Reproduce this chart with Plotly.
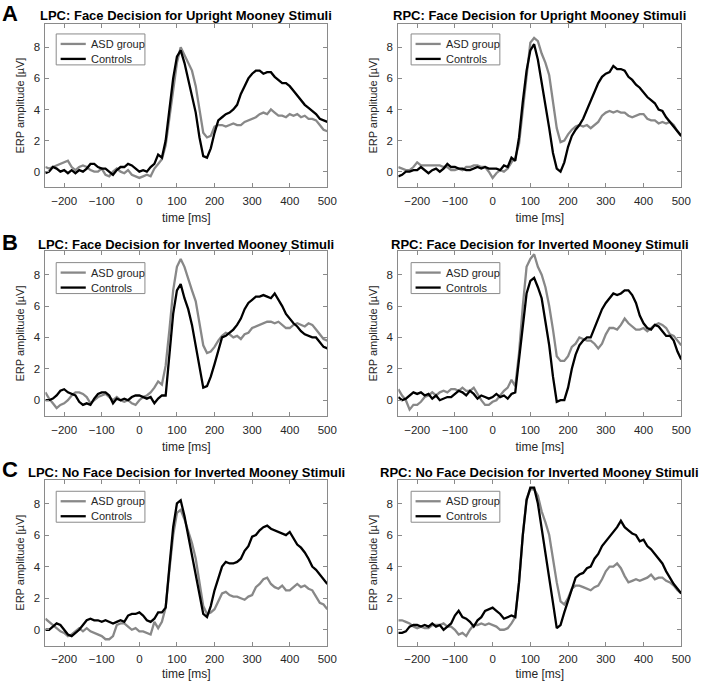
import plotly.graph_objects as go

time_ms = list(range(-250, 501, 10))

lpc_up_asd = [0.3,0.2,0.3,0.4,0.5,0.6,0.7,0.3,0.1,0.3,0.4,0.3,0.1,0.0,0.0,0.2,-0.2,-0.3,0.0,0.2,0.0,-0.1,0.1,-0.2,-0.3,
              -0.4,-0.3,-0.2,-0.3,0.2,0.5,0.8,1.7,3.5,5.5,7.0,8.0,7.5,7.0,6.5,5.5,4.0,2.5,2.2,2.3,2.9,3.0,3.0,2.9,3.0,
              3.1,3.0,3.0,3.2,3.3,3.4,3.5,3.7,3.8,3.7,4.0,3.8,3.6,3.6,3.5,3.7,3.6,3.7,3.5,3.6,3.4,3.4,3.3,3.0,2.7,2.6]
lpc_up_ctl = [-0.1,0.0,0.3,0.2,0.0,0.1,-0.1,0.1,-0.1,0.1,0.0,0.2,0.5,0.5,0.3,0.2,0.2,0.0,-0.2,0.1,0.3,0.3,0.5,0.4,0.2,
              0.0,0.1,0.0,0.3,0.5,1.1,0.9,2.0,4.0,6.0,7.4,7.8,7.0,6.0,5.0,3.8,2.2,1.0,0.9,1.5,2.5,3.3,3.5,3.7,3.8,
              4.0,4.3,5.0,5.5,6.0,6.3,6.5,6.5,6.3,6.4,6.4,6.1,5.9,5.7,5.7,5.5,5.2,4.9,4.6,4.3,4.1,3.9,3.7,3.4,3.3,3.2]

rpc_up_asd = [0.3,0.2,0.1,0.1,0.3,0.6,0.4,0.4,0.4,0.4,0.4,0.4,0.3,0.3,0.1,0.1,0.2,0.1,0.3,0.3,0.4,0.4,0.3,0.3,0.0,
              -0.4,-0.1,0.1,0.0,0.2,0.6,0.9,1.8,4.0,6.5,8.3,8.6,8.4,7.6,7.0,6.2,4.5,2.8,1.9,2.0,2.4,2.7,2.9,3.0,2.9,
              3.0,2.8,3.0,3.2,3.6,3.8,3.9,3.8,3.9,3.8,3.8,3.6,3.5,3.6,3.7,3.7,3.4,3.3,3.3,3.1,3.2,3.1,3.2,3.0,2.6,2.3]
rpc_up_ctl = [-0.3,-0.2,0.0,0.0,0.1,0.1,0.3,0.1,-0.1,0.1,0.2,0.0,0.2,0.5,0.3,0.3,0.2,0.2,0.1,0.1,0.2,0.3,0.2,0.3,0.2,
              0.2,0.2,0.1,0.4,0.3,0.9,0.7,2.2,4.5,6.5,7.8,8.2,7.2,5.8,4.2,2.8,1.2,0.2,0.0,0.6,1.6,2.3,2.7,3.0,3.4,
              4.0,4.6,5.2,5.7,6.1,6.3,6.4,6.8,6.6,6.6,6.5,6.1,5.9,5.6,5.4,5.1,4.8,4.6,4.4,4.0,3.9,3.5,3.2,2.9,2.6,2.3]

lpc_inv_asd = [0.5,0.1,-0.2,-0.5,-0.3,-0.2,0.0,0.3,0.5,0.5,0.4,0.2,-0.2,0.0,0.2,0.3,0.4,0.2,0.0,0.2,0.0,-0.1,0.0,-0.2,-0.3,
               0.0,0.2,0.3,0.5,0.8,1.2,1.0,2.2,4.5,7.0,8.5,9.0,8.5,7.7,7.0,6.3,5.0,3.5,3.0,3.1,3.4,3.8,4.1,4.3,4.2,
               4.0,4.1,3.9,4.2,4.3,4.6,4.7,4.8,4.9,5.0,5.0,4.9,5.0,4.8,4.6,4.6,4.8,4.9,4.8,4.7,4.9,4.8,4.5,4.2,3.9,3.8]
lpc_inv_ctl = [0.0,0.0,0.1,0.3,0.6,0.7,0.5,0.4,0.3,-0.1,-0.3,-0.2,-0.3,0.1,0.4,0.5,0.5,0.3,-0.2,0.1,0.0,0.1,0.0,0.2,0.3,
               0.3,0.2,0.1,0.2,-0.2,0.1,0.3,0.3,3.0,5.5,7.0,7.4,6.5,5.8,4.8,3.5,2.0,0.8,0.9,1.5,2.3,3.2,4.0,4.1,4.3,
               4.5,4.8,5.2,5.8,6.2,6.4,6.6,6.6,6.7,6.6,6.5,6.8,6.4,6.0,5.5,5.2,4.9,4.7,4.4,4.2,4.1,4.0,4.0,3.7,3.4,3.3]

rpc_inv_asd = [0.7,0.3,0.0,-0.6,-0.3,-0.3,-0.1,0.2,0.3,0.5,0.3,0.5,0.6,0.5,0.7,0.7,0.6,0.8,0.6,0.6,0.8,0.4,0.0,-0.3,-0.3,
               -0.1,0.0,0.3,0.6,0.8,1.3,0.9,3.0,6.0,8.5,9.0,9.3,8.5,8.0,7.2,6.0,4.5,2.8,2.5,2.5,2.8,3.4,3.6,4.0,3.9,
               3.8,3.8,3.6,3.3,3.6,4.2,4.6,4.6,4.5,4.8,5.2,4.9,4.7,4.5,4.5,4.6,4.4,4.6,4.8,4.9,4.8,4.6,4.2,4.1,3.8,3.5]
rpc_inv_ctl = [0.2,0.0,0.1,0.3,0.5,0.4,0.5,0.3,0.4,0.1,0.3,0.0,0.1,0.2,0.2,0.4,0.6,0.5,0.3,0.6,0.4,0.1,0.3,0.2,0.1,
               0.2,0.4,0.2,0.3,0.1,0.4,0.5,2.5,4.8,6.8,7.6,7.8,7.2,6.5,5.0,3.5,1.5,-0.1,0.0,0.0,0.8,2.0,2.9,3.5,3.8,
               4.0,4.0,4.6,5.3,5.8,6.2,6.5,6.8,6.7,6.8,7.0,7.0,6.7,6.2,5.4,4.9,4.6,4.5,4.8,4.7,4.4,4.1,4.1,3.8,3.1,2.6]

lpc_noface_asd = [0.7,0.5,0.3,0.1,-0.1,-0.2,-0.4,-0.3,-0.1,0.1,-0.1,0.1,-0.1,-0.2,-0.3,-0.4,-0.6,-0.6,-0.4,0.3,0.4,0.4,0.2,0.0,0.1,
                  -0.1,-0.1,-0.2,-0.3,0.5,0.1,0.5,1.4,3.8,6.0,7.4,7.6,7.0,6.2,5.5,4.5,3.0,1.5,1.0,1.1,1.3,1.8,2.3,2.4,2.2,
                  2.1,2.1,2.0,1.9,2.1,2.2,2.7,2.9,3.2,3.3,2.9,2.7,2.6,2.8,2.5,2.5,2.7,2.9,2.7,2.8,2.6,2.5,2.1,1.7,1.6,1.3]
lpc_noface_ctl = [0.0,0.0,0.2,0.4,0.3,0.0,-0.3,-0.4,-0.2,0.0,0.3,0.6,0.7,0.6,0.6,0.5,0.6,0.5,0.4,0.5,0.6,0.5,0.9,1.0,1.0,
                  1.1,0.9,0.6,0.5,0.7,1.1,1.1,1.4,4.0,6.5,8.0,8.2,7.2,6.0,4.8,3.5,2.2,1.0,0.8,1.5,2.5,3.2,4.0,4.3,4.2,
                  4.2,4.3,4.5,5.0,5.3,5.9,6.0,6.3,6.5,6.6,6.4,6.3,6.2,6.1,6.0,6.2,5.8,5.4,5.2,4.9,4.5,4.0,3.8,3.5,3.2,2.9]

rpc_noface_asd = [0.6,0.6,0.5,0.4,0.2,0.1,0.2,0.1,0.1,0.3,0.3,0.3,0.4,0.2,0.2,0.0,-0.3,-0.2,-0.4,0.0,0.3,0.3,0.4,0.3,0.4,
                  0.3,0.2,0.0,0.0,0.1,0.4,0.8,3.0,6.0,8.3,8.9,8.9,8.5,7.5,6.8,6.0,4.5,3.0,1.8,1.6,2.0,2.6,2.8,2.8,2.7,
                  2.6,2.5,2.7,2.8,3.2,3.7,4.0,4.0,4.2,3.9,3.4,3.0,3.1,3.2,3.1,3.2,3.3,3.5,3.2,3.3,3.3,3.1,3.0,2.8,2.5,2.3]
rpc_noface_ctl = [-0.2,-0.2,-0.1,0.2,0.3,0.3,0.2,0.3,0.2,0.4,0.2,0.3,0.0,0.2,0.4,0.9,1.2,0.8,0.7,0.5,0.2,0.6,0.8,1.2,1.3,
                  1.4,1.2,1.0,0.7,0.8,0.9,0.8,3.0,6.0,8.2,9.0,9.0,8.0,6.5,4.8,3.3,1.7,0.1,0.3,1.1,1.8,2.6,3.3,3.5,3.6,
                  3.9,4.0,4.5,4.8,5.3,5.6,5.9,6.2,6.5,6.9,6.5,6.3,6.1,6.0,5.6,5.7,5.3,5.1,4.8,4.5,4.2,3.7,3.3,2.9,2.6,2.3]

titles = ["LPC: Face Decision for Upright Mooney Stimuli",
          "RPC: Face Decision for Upright Mooney Stimuli",
          "LPC: Face Decision for Inverted Mooney Stimuli",
          "RPC: Face Decision for Inverted Mooney Stimuli",
          "LPC: No Face Decision for Inverted Mooney Stimuli",
          "RPC: No Face Decision for Inverted Mooney Stimuli"]
panel_letters = ["A", "B", "C"]
series_names = ["ASD group", "Controls"]
x_ticks = [-200, -100, 0, 100, 200, 300, 400, 500]
y_ticks = [0, 2, 4, 6, 8]

panels = [(lpc_up_asd, lpc_up_ctl), (rpc_up_asd, rpc_up_ctl),
          (lpc_inv_asd, lpc_inv_ctl), (rpc_inv_asd, rpc_inv_ctl),
          (lpc_noface_asd, lpc_noface_ctl), (rpc_noface_asd, rpc_noface_ctl)]

W, H = 709, 681
FONT = "Liberation Sans, Arial, sans-serif"
xdoms = [(46 / W, 332 / W), (404 / W, 691 / W)]
row_px = [(24, 187.5), (251.5, 416.5), (480.5, 646.5)]
ydoms = [(1 - b / H, 1 - t / H) for (t, b) in row_px]
title_y_px = [16, 245, 473]
letter_top_px = [0, 229, 457]
legend_px = [(57, 34), (417, 34), (57, 263), (417, 263), (57, 492), (417, 492)]
LEG_W, LEG_H = 90, 31

colors = ["#888888", "#000000"]
AX = "#8a8a8a"

fig = go.Figure()
annotations = []
shapes = []

for i, (asd, ctl) in enumerate(panels):
    r, c = divmod(i, 2)
    n = i + 1
    xa = "xaxis" if n == 1 else f"xaxis{n}"
    ya = "yaxis" if n == 1 else f"yaxis{n}"
    xr = "x" if n == 1 else f"x{n}"
    yr = "y" if n == 1 else f"y{n}"
    for s, (vals, name) in enumerate(zip((asd, ctl), series_names)):
        fig.add_trace(go.Scatter(x=time_ms, y=vals, mode="lines", name=name,
                                 line=dict(color=colors[s], width=2.3),
                                 xaxis=xr, yaxis=yr, showlegend=False))
    common = dict(showline=True, linecolor=AX, linewidth=1, mirror="allticks",
                  ticks="inside", ticklen=4, tickcolor=AX, showgrid=False,
                  zeroline=False, tickfont=dict(size=11.5, color="#262626"))
    fig.layout[xa] = dict(domain=list(xdoms[c]), anchor=yr, range=[-250, 500],
                          tickvals=x_ticks, ticklabelstandoff=3,
                          title=dict(text="time [ms]", standoff=7, font=dict(size=12)),
                          **common)
    fig.layout[ya] = dict(domain=list(ydoms[r]), anchor=xr, range=[-1, 9.5],
                          tickvals=y_ticks, ticklabelstandoff=2,
                          title=dict(text="ERP amplitude [µV]", standoff=6, font=dict(size=11)),
                          **common)
    # legend box (drawn like MATLAB's boxed legend)
    lx, ly = legend_px[i]
    shapes.append(dict(type="rect", xref="paper", yref="paper",
                       x0=lx / W, x1=(lx + LEG_W) / W, y0=1 - ly / H, y1=1 - (ly + LEG_H) / H,
                       line=dict(color=AX, width=1), fillcolor="white", layer="above"))
    for s, name in enumerate(series_names):
        yy = ly + (10 if s == 0 else 25)
        shapes.append(dict(type="line", xref="paper", yref="paper",
                           x0=(lx + 4.5) / W, x1=(lx + 30) / W, y0=1 - yy / H, y1=1 - yy / H,
                           line=dict(color=colors[s], width=2.3), layer="above"))
        annotations.append(dict(text=name, x=(lx + 33) / W, y=1 - yy / H,
                                xref="paper", yref="paper", xanchor="left", yanchor="middle",
                                showarrow=False, font=dict(size=11, color="#262626")))
    annotations.append(dict(
        text=f"<b>{titles[i]}</b>", x=(xdoms[c][0] + xdoms[c][1]) / 2,
        y=1 - title_y_px[r] / H, xref="paper", yref="paper",
        xanchor="center", yanchor="middle", showarrow=False,
        font=dict(size=13, color="#000000")))

for r, letter in enumerate(panel_letters):
    annotations.append(dict(
        text=f"<b>{letter}</b>", x=1 / W, y=1 - letter_top_px[r] / H,
        xref="paper", yref="paper", xanchor="left", yanchor="top",
        showarrow=False, borderpad=0, font=dict(size=22, color="#000000")))

fig.update_layout(width=W, height=H, margin=dict(l=0, r=0, t=0, b=0),
                  paper_bgcolor="white", plot_bgcolor="white",
                  font=dict(family=FONT, size=12, color="#262626"),
                  annotations=annotations, shapes=shapes, showlegend=False)

fig.write_html("out.html", config={"displayModeBar": False},
               post_script="document.body.style.margin='0';")
